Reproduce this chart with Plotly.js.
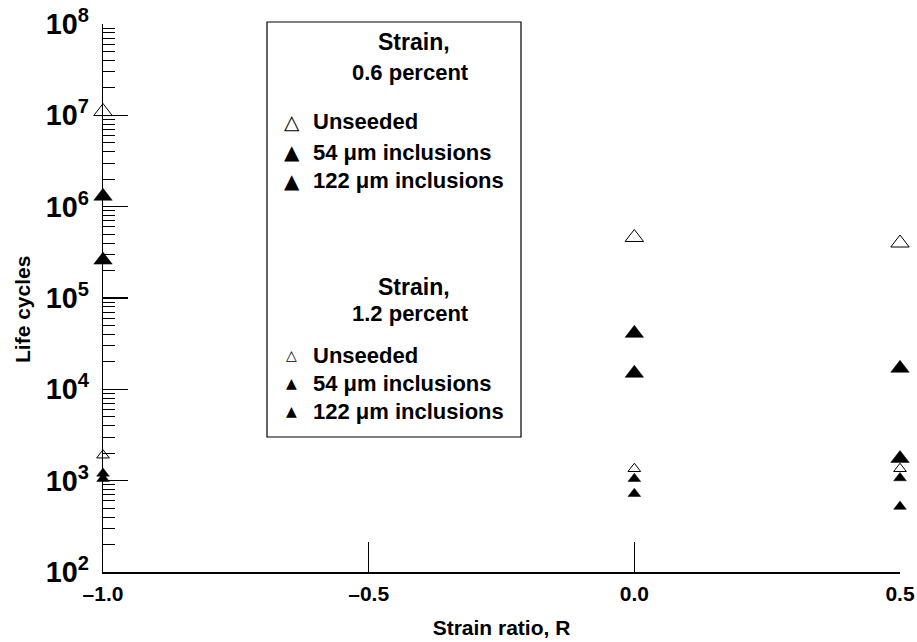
<!DOCTYPE html>
<html><head><meta charset="utf-8">
<script src="https://cdn.plot.ly/plotly-3.0.1.min.js"></script>
<style>html,body{margin:0;padding:0;background:#fff}</style>
</head><body><div id="chart" style="width:917px;height:642px"></div>
<script>
// x tick values / labels
const xTickVals = [-1.0, -0.5, 0.0, 0.5];
const xTickText = ["\u20131.0", "\u20130.5", "0.0", "0.5"];

// Strain 0.6 percent
const unseeded06X = [-1.0, 0.0, 0.5];
const unseeded06Y = [1.1e7, 4.6e5, 4.0e5];
const inc54_06X = [-1.0, 0.0, 0.5];
const inc54_06Y = [1.3e6, 4.1e4, 1.7e4];
const inc122_06X = [-1.0, 0.0, 0.5];
const inc122_06Y = [2.6e5, 1.5e4, 1.75e3];

// Strain 1.2 percent
const unseeded12X = [-1.0, 0.0, 0.5];
const unseeded12Y = [1.9e3, 1.35e3, 1.35e3];
const inc54_12X = [-1.0, 0.0, 0.5];
const inc54_12Y = [1.2e3, 1.05e3, 1.07e3];
const inc122_12X = [-1.0, 0.0, 0.5];
const inc122_12Y = [1.05e3, 720, 520];

const BIG = 16, SMALL = 11;
function tr(name, x, y, size, open) {
  return {
    type: 'scatter', mode: 'markers', name: name, x: x, y: y,
    cliponaxis: false, showlegend: false,
    marker: {
      symbol: 'triangle-up', size: size,
      color: open ? '#ffffff' : '#000000',
      line: {color: '#000000', width: open ? 1 : 0.5}
    }
  };
}

const data = [
  tr('Unseeded, 0.6%', unseeded06X, unseeded06Y, BIG, true),
  tr('54 \u03bcm inclusions, 0.6%', inc54_06X, inc54_06Y, BIG, false),
  tr('122 \u03bcm inclusions, 0.6%', inc122_06X, inc122_06Y, BIG, false),
  tr('Unseeded, 1.2%', unseeded12X, unseeded12Y, SMALL, true),
  tr('54 \u03bcm inclusions, 1.2%', inc54_12X, inc54_12Y, SMALL, false),
  tr('122 \u03bcm inclusions, 1.2%', inc122_12X, inc122_12Y, SMALL, false)
];

const FONT = 'Liberation Sans, Arial, Helvetica, sans-serif';
const L = 103, T = 24, W = 797, H = 548;
function px(x) { return (x - L) / W; }
function py(y) { return (T + H - y) / H; }

const ann = [];
function txt(text, x, y, anchor, size, family, angle) {
  ann.push({xref: 'paper', yref: 'paper', x: px(x), y: py(y), text: text,
    showarrow: false, xanchor: anchor, yanchor: 'middle', textangle: angle || 0,
    font: {family: family || FONT, size: size || 22, color: '#000', weight: family ? 'normal' : 'bold'}});
}
const SYM = 'DejaVu Sans, sans-serif';
txt('Strain,', 414, 42, 'center', 23);
txt('0.6 percent', 410, 72, 'center');
txt('\u25b3', 292, 122, 'center', 20, SYM);
txt('Unseeded', 311, 122, 'left');
txt('\u25b2', 292, 152, 'center', 20, SYM);
txt('54 \u03bcm inclusions', 311, 152, 'left');
txt('\u25b2', 292, 181, 'center', 20, SYM);
txt('122 \u03bcm inclusions', 311, 181, 'left');
txt('Strain,', 414, 287, 'center', 23);
txt('1.2 percent', 410, 313, 'center');
txt('\u25b3', 291, 355, 'center', 14, SYM);
txt('Unseeded', 311, 355, 'left');
txt('\u25b2', 291, 383, 'center', 14, SYM);
txt('54 \u03bcm inclusions', 311, 383, 'left');
txt('\u25b2', 291, 411, 'center', 14, SYM);
txt('122 \u03bcm inclusions', 311, 411, 'left');
// y-axis title
txt('Life cycles', 22, 310, 'center', 21, null, -90);

const layout = {
  width: 917, height: 642,
  margin: {l: L, r: 917 - L - W, t: T, b: 642 - T - H},
  paper_bgcolor: '#fff', plot_bgcolor: '#fff',
  font: {family: FONT, size: 21, color: '#000', weight: 'bold'},
  showlegend: false,
  xaxis: {
    range: [-1.0, 0.5], tickmode: 'array', tickvals: xTickVals, ticktext: xTickText,
    ticks: 'inside', ticklen: 30, tickwidth: 1.3, tickcolor: '#000',
    showline: true, linecolor: '#000', linewidth: 1.5,
    showgrid: false, zeroline: false, ticklabelstandoff: 2,
    tickfont: {family: FONT, size: 21, weight: 'bold'},
    title: {text: 'Strain ratio, R', font: {family: FONT, size: 21, weight: 'bold'}, standoff: 16}
  },
  yaxis: {
    type: 'log', range: [2, 8], dtick: 1, exponentformat: 'power',
    ticks: 'inside', ticklen: 25, tickwidth: 1.3, tickcolor: '#000',
    minor: {ticks: 'inside', ticklen: 12, dtick: 'D1', tickcolor: '#000', tickwidth: 1},
    showline: true, linecolor: '#000', linewidth: 1.5,
    showgrid: false, zeroline: false, ticklabelstandoff: 8,
    tickfont: {family: FONT, size: 23, weight: 'bold'}
  },
  shapes: [{type: 'rect', xref: 'paper', yref: 'paper',
    x0: px(267), x1: px(521), y0: py(437), y1: py(22),
    line: {color: '#000', width: 1.2}, fillcolor: 'rgba(0,0,0,0)', layer: 'below'}],
  annotations: ann
};

Plotly.newPlot('chart', data, layout, {displayModeBar: false, staticPlot: true});
</script></body></html>
